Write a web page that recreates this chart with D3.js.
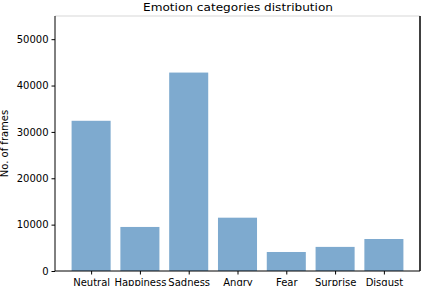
<!DOCTYPE html>
<html>
<head>
<meta charset="utf-8">
<script src="https://cdn.jsdelivr.net/npm/d3@7"></script>
<style>
  body { margin: 0; background: #fff; }
  text { font-family: "DejaVu Sans", sans-serif; fill: #000; }
</style>
</head>
<body>
<svg id="chart" width="422" height="286"></svg>
<script>
// values
var categories = ['Neutral', 'Happiness', 'Sadness', 'Angry', 'Fear', 'Surprise', 'Disgust'];
var frames = [32400, 9500, 42800, 11500, 4100, 5200, 6900];
var yTicks = [0, 10000, 20000, 30000, 40000, 50000];

var svg = d3.select('#chart');
var plotLeft = 55, plotRight = 420, plotTop = 16, plotBottom = 271;

// matplotlib style: bar width 0.8, 5% margins
var x = d3.scaleLinear().domain([-0.74, categories.length - 1 + 0.74]).range([plotLeft, plotRight]);
var y = d3.scaleLinear().domain([0, 55000]).range([plotBottom, plotTop]);

svg.append('g').selectAll('rect')
    .data(frames)
    .enter().append('rect')
    .attr('x', function(d, i) { return x(i - 0.4); })
    .attr('width', function(d, i) { return x(i + 0.4) - x(i - 0.4); })
    .attr('y', function(d) { return y(d); })
    .attr('height', function(d) { return plotBottom - y(d); })
    .attr('fill', '#7eaacf');

var yAxis = d3.axisLeft(y).tickValues(yTicks).tickSize(3.5).tickPadding(3).tickFormat(d3.format('d'));
var gy = svg.append('g').attr('transform', 'translate(' + plotLeft + ',0)').call(yAxis);
gy.select('.domain').remove();
gy.selectAll('text').style('font-size', '10px');
gy.selectAll('line').attr('stroke', '#000');

var xAxis = d3.axisBottom(x).tickValues(d3.range(categories.length)).tickSize(3.5).tickPadding(4.5)
    .tickFormat(function(i) { return categories[i]; });
var gx = svg.append('g').attr('transform', 'translate(0,' + plotBottom + ')').call(xAxis);
gx.select('.domain').remove();
gx.selectAll('text').style('font-size', '10px');
gx.selectAll('line').attr('stroke', '#000');

// frame: top edge shows light in the picture, right edge heavier
svg.append('line').attr('x1', plotLeft).attr('x2', plotRight).attr('y1', plotTop).attr('y2', plotTop)
    .attr('stroke', '#e4e4e4').attr('stroke-width', 1.5);
svg.append('line').attr('x1', plotLeft).attr('x2', plotLeft).attr('y1', plotTop).attr('y2', plotBottom)
    .attr('stroke', '#000').attr('stroke-width', 1);
svg.append('line').attr('x1', plotRight).attr('x2', plotRight).attr('y1', plotTop).attr('y2', plotBottom)
    .attr('stroke', '#000').attr('stroke-width', 1.5);
svg.append('line').attr('x1', plotLeft).attr('x2', plotRight).attr('y1', plotBottom).attr('y2', plotBottom)
    .attr('stroke', '#000').attr('stroke-width', 1);

svg.append('text')
    .attr('x', (plotLeft + plotRight) / 2 + 0.5).attr('y', 11)
    .attr('text-anchor', 'middle')
    .attr('textLength', 190).attr('lengthAdjust', 'spacingAndGlyphs')
    .style('font-size', '10.5px')
    .text('Emotion categories distribution');

svg.append('text')
    .attr('transform', 'translate(8,' + (plotTop + plotBottom) / 2 + ') rotate(-90)')
    .attr('text-anchor', 'middle')
    .style('font-size', '10px')
    .text('No. of frames');
</script>
</body>
</html>
